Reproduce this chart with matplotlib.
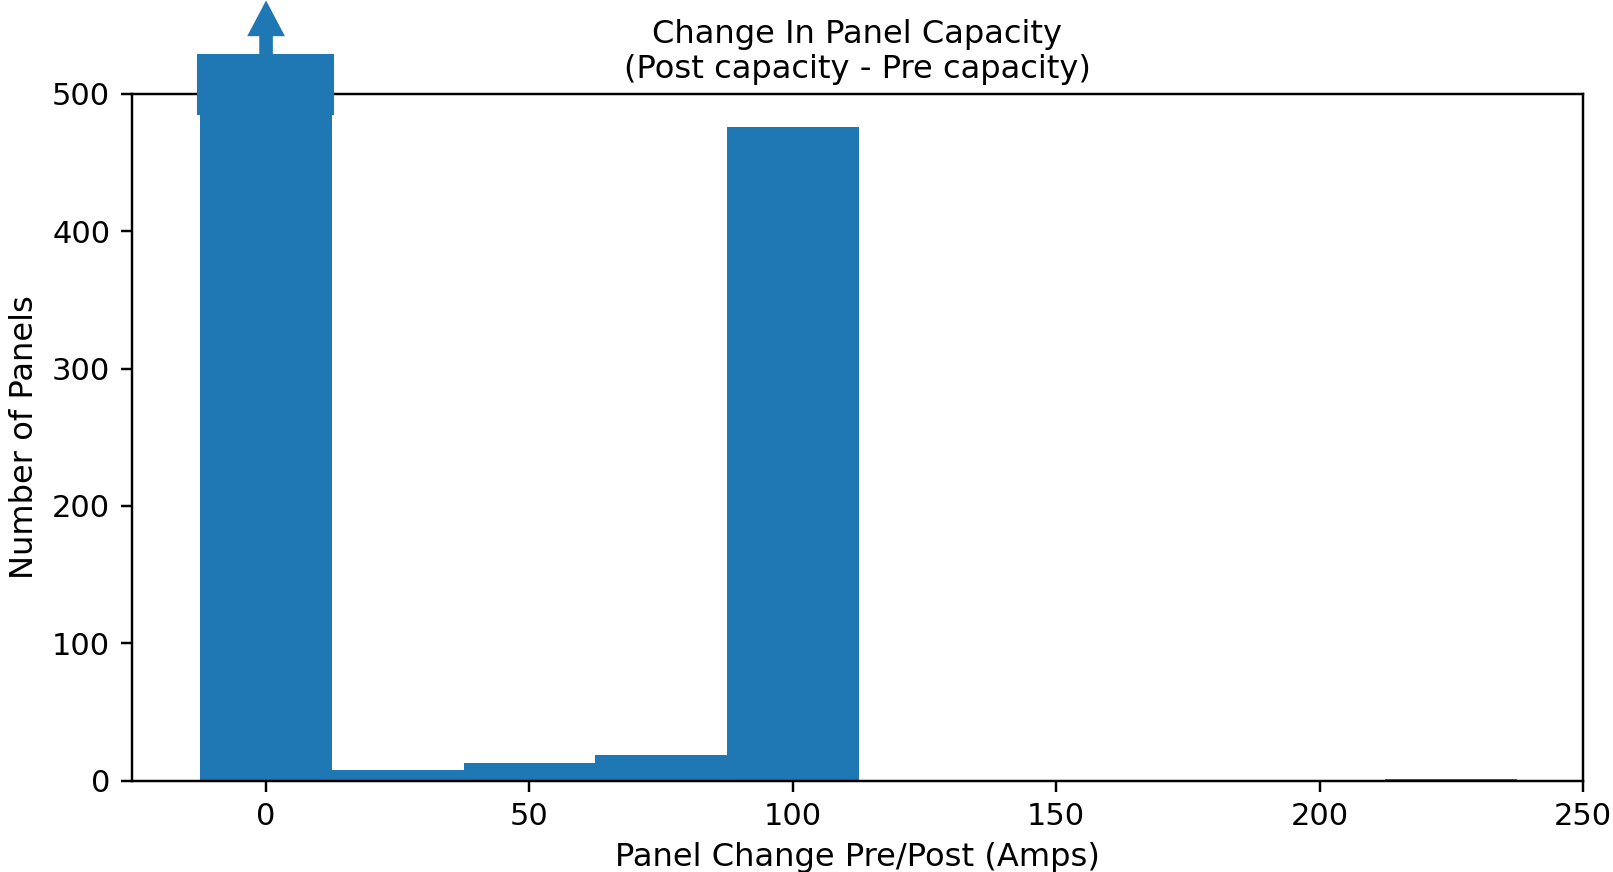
import matplotlib
matplotlib.use("Agg")
from matplotlib import pyplot as plt
from matplotlib.patches import Rectangle

# 面板容量变化直方图（按25A分箱，第一个箱超出显示范围）
bin_centers = [0, 25, 50, 75, 100, 125, 150, 175, 200, 225]
counts = [1035, 8, 13, 19, 476, 0, 0, 0, 0, 1]
bin_width = 25
y_max = 500

color = '#1f77b4'

fig = plt.figure(figsize=(1613 / 220, 872 / 220), dpi=220)
ax = fig.add_axes([0.0816, 0.1047, 0.9814 - 0.0816, 0.8925 - 0.1047])

ax.bar(bin_centers, counts, width=bin_width, color=color)
ax.set_ylim(0, y_max)

# 截断标记：超出上限的柱用方块+箭头表示
ax.add_patch(Rectangle((-13, 486), 25.5, 42, color=color, clip_on=False, zorder=5))
ax.arrow(0, 528, 0, 37.5, width=2, head_width=6.2, head_length=22.5,
         length_includes_head=True, color=color, clip_on=False, zorder=5)

ax.set_xlabel('Panel Change Pre/Post (Amps)', fontsize=10.5, labelpad=3.5)
ax.set_ylabel('Number of Panels', fontsize=10.5, labelpad=4)
ax.set_title('Change In Panel Capacity\n(Post capacity - Pre capacity)', fontsize=10.5, pad=5)

fig.savefig('out.png', dpi=220)
